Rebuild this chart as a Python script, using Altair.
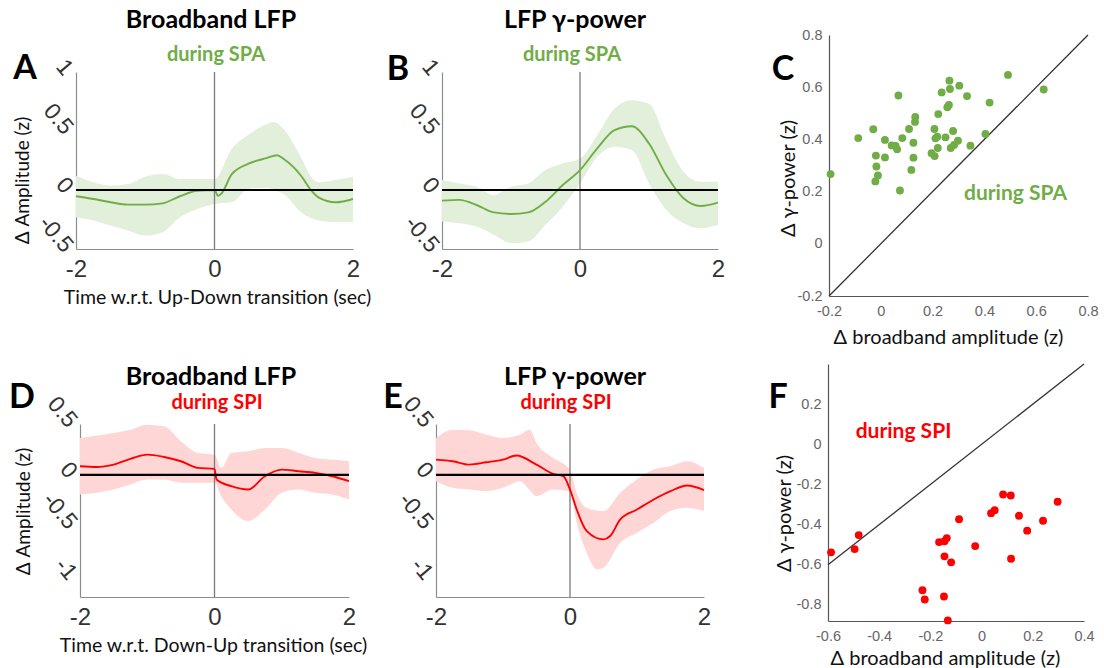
import altair as alt
import pandas as pd

# ---------------- data ----------------
# Panel A: broadband LFP during SPA (Up-Down transition)
a_t = [-2, -1.75, -1.5, -1.25, -1, -0.75, -0.5, -0.25, 0, 0.05, 0.1, 0.25, 0.5, 0.75, 0.9, 1.0, 1.25, 1.4, 1.5, 1.75, 2]
a_mean = [-0.053, -0.076, -0.104, -0.124, -0.124, -0.113, -0.053, -0.006, 0.0, -0.05, -0.03, 0.135, 0.225, 0.27, 0.295, 0.262, 0.121, -0.006, -0.062, -0.104, -0.076]
a_bt = [-2, -1.75, -1.5, -1.25, -1, -0.75, -0.5, -0.25, 0, 0.25, 0.5, 0.75, 0.85, 1.0, 1.25, 1.4, 1.5, 1.75, 2]
a_hi = [0.121, 0.065, 0.037, 0.05, 0.113, 0.135, 0.093, 0.093, 0.093, 0.35, 0.473, 0.557, 0.577, 0.515, 0.276, 0.107, 0.065, 0.084, 0.113]
a_lo = [-0.231, -0.259, -0.301, -0.343, -0.386, -0.357, -0.231, -0.16, -0.118, -0.104, 0.01, 0.02, 0.0, -0.034, -0.189, -0.24, -0.259, -0.273, -0.273]

# Panel B: LFP gamma power during SPA
b_t = [-2, -1.75, -1.5, -1.25, -1, -0.75, -0.5, -0.25, 0, 0.25, 0.5, 0.75, 1, 1.25, 1.5, 1.75, 2]
b_mean = [-0.09, -0.084, -0.127, -0.19, -0.203, -0.19, -0.1, 0.042, 0.169, 0.352, 0.507, 0.54, 0.394, 0.127, -0.07, -0.135, -0.107]
b_hi = [0.084, 0.056, 0.028, -0.042, 0.028, 0.056, 0.169, 0.225, 0.267, 0.464, 0.69, 0.76, 0.73, 0.422, 0.155, 0.07, 0.07]
b_lo = [-0.267, -0.281, -0.31, -0.38, -0.45, -0.436, -0.295, -0.141, 0.056, 0.281, 0.366, 0.338, 0.056, -0.169, -0.281, -0.324, -0.295]

# Panel D: broadband LFP during SPI (Down-Up transition)
d_t = [-2, -1.75, -1.5, -1.25, -1, -0.75, -0.5, -0.25, 0, 0.03, 0.25, 0.5, 0.75, 1, 1.25, 1.5, 1.75, 2]
d_mean = [0.085, 0.078, 0.101, 0.157, 0.199, 0.176, 0.134, 0.069, 0.059, -0.046, -0.111, -0.144, -0.013, 0.052, 0.036, 0.02, -0.013, -0.062]
d_bt = [-2, -1.75, -1.5, -1.25, -1, -0.75, -0.5, -0.25, 0, 0.1, 0.25, 0.5, 0.75, 1, 1.25, 1.5, 1.75, 2]
d_hi = [0.363, 0.386, 0.412, 0.444, 0.493, 0.477, 0.33, 0.216, 0.199, 0.07, 0.216, 0.232, 0.265, 0.265, 0.216, 0.167, 0.15, 0.134]
d_lo = [-0.193, -0.176, -0.144, -0.095, -0.046, -0.046, -0.078, -0.078, -0.078, -0.21, -0.34, -0.454, -0.34, -0.176, -0.144, -0.176, -0.193, -0.242]

# Panel E: LFP gamma power during SPI
e_t = [-2, -1.75, -1.5, -1.25, -1, -0.8, -0.5, -0.25, -0.1, 0, 0.1, 0.25, 0.5, 0.6, 0.75, 1, 1.25, 1.5, 1.75, 2]
e_mean = [0.15, 0.134, 0.101, 0.124, 0.15, 0.19, 0.101, 0.01, -0.013, -0.144, -0.34, -0.552, -0.634, -0.601, -0.438, -0.34, -0.242, -0.16, -0.105, -0.15]
e_bt = [-2, -1.75, -1.5, -1.25, -1, -0.75, -0.6, -0.5, -0.25, 0, 0.1, 0.25, 0.4, 0.5, 0.75, 1, 1.25, 1.5, 1.75, 2]
e_hi = [0.363, 0.444, 0.438, 0.395, 0.363, 0.395, 0.444, 0.314, 0.167, 0.052, -0.18, -0.324, -0.35, -0.356, -0.176, -0.046, 0.052, 0.085, 0.134, 0.069]
e_lo = [-0.062, -0.127, -0.144, -0.16, -0.127, -0.062, -0.15, -0.209, -0.144, -0.16, -0.47, -0.765, -0.928, -0.912, -0.667, -0.569, -0.471, -0.356, -0.324, -0.356]

# Panel C: scatter during SPA
c_x = [-0.194, -0.087, -0.029, -0.019, -0.017, -0.011, -0.021, 0.016, 0.016, 0.042, 0.057, 0.063, 0.068, 0.074,
       0.083, 0.109, 0.126, 0.126, 0.118, 0.132, 0.133, 0.196, 0.208, 0.207, 0.211, 0.218, 0.220, 0.222, 0.235,
       0.250, 0.257, 0.263, 0.265, 0.267, 0.270, 0.279, 0.283, 0.298, 0.303, 0.333, 0.346, 0.404, 0.420, 0.491, 0.629]
c_y = [0.267, 0.405, 0.439, 0.338, 0.296, 0.262, 0.239, 0.398, 0.331, 0.377, 0.375, 0.362, 0.568, 0.204,
       0.405, 0.440, 0.387, 0.330, 0.283, 0.467, 0.486, 0.347, 0.336, 0.440, 0.404, 0.410, 0.367, 0.497, 0.580,
       0.408, 0.523, 0.532, 0.625, 0.593, 0.367, 0.432, 0.379, 0.395, 0.606, 0.566, 0.376, 0.421, 0.541, 0.647, 0.591]

# Panel F: scatter during SPI
f_x = [-0.588, -0.496, -0.480, -0.231, -0.222, -0.147, -0.132, -0.166, -0.145, -0.136, -0.145, -0.119,
       -0.088, -0.025, 0.037, 0.051, 0.084, 0.114, 0.115, 0.146, 0.178, 0.240, 0.297]
f_y = [-0.538, -0.522, -0.452, -0.727, -0.773, -0.758, -0.877, -0.487, -0.483, -0.467, -0.558, -0.588,
       -0.373, -0.507, -0.343, -0.328, -0.250, -0.255, -0.570, -0.356, -0.430, -0.381, -0.286]

# ---------------- styling ----------------
W, H = 1104, 668
GREEN, GREEN_FILL = "#70ad47", "#e2efda"
RED, RED_FILL = "#ff0000", "#ffd6d6"
TFONT = "Lato"
NFONT = "Liberation Sans"
MINUS = "replace(format(datum.value, '~g'), '\u2212', '-')"


def ts_panel(tm, mean, tb, lo, hi, ydom, yvals, xr, yr, col, fill, ytitle=None, ytitle_pos=None,
             xtitle=None, xtitle_pos=None):
    xs = alt.Scale(domain=[-2, 2], range=xr, nice=False, zero=False)
    ys = alt.Scale(domain=ydom, range=yr, nice=False, zero=False)
    yaxis = dict(orient="left", offset=-xr[0], values=yvals, grid=False, ticks=False, tickSize=0,
                 domainColor="#8c8c8c", domainWidth=1.2, labelFont=NFONT, labelFontSize=23,
                 labelColor="#333333", labelAngle=50, labelAlign="right", labelBaseline="middle",
                 labelPadding=8, labelExpr=MINUS, title="")
    if ytitle:
        yaxis.update(title=ytitle, titleFont=TFONT, titleFontSize=19, titleFontWeight="normal",
                     titleColor="#111111", titleAngle=270, titleAlign="center", titleBaseline="middle",
                     titleX=ytitle_pos[0] - xr[0], titleY=ytitle_pos[1])
    xaxis = dict(orient="bottom", offset=yr[0] - H, values=[-2, 0, 2], grid=False, ticks=False, tickSize=0,
                 domainColor="#8c8c8c", domainWidth=1.2, labelFont=NFONT, labelFontSize=24,
                 labelColor="#333333", labelPadding=8, labelExpr=MINUS, labelFlush=False, title="")
    if xtitle:
        xaxis.update(title=xtitle, titleFont=TFONT, titleFontSize=19.5, titleFontWeight="normal",
                     titleColor="#111111", titleAlign="center", titleBaseline="middle",
                     titleX=xtitle_pos[0], titleY=xtitle_pos[1] - yr[0])

    band = alt.Chart(pd.DataFrame({"t": tb, "lo": lo, "hi": hi})).mark_area(
        color=fill, opacity=1, interpolate="monotone").encode(
        x=alt.X("t:Q", scale=xs, axis=alt.Axis(**xaxis)),
        y=alt.Y("lo:Q", scale=ys, axis=alt.Axis(**yaxis)),
        y2="hi:Q")
    vline = alt.Chart(pd.DataFrame({"x": [0], "y1": [ydom[0]], "y2": [ydom[1]]})).mark_rule(
        color="#7a7a7a", strokeWidth=1.3).encode(
        x=alt.X("x:Q", scale=xs, axis=None), y=alt.Y("y1:Q", scale=ys, axis=None), y2="y2:Q")
    line = alt.Chart(pd.DataFrame({"t": tm, "m": mean})).mark_line(
        color=col, strokeWidth=1.9, interpolate="monotone").encode(
        x=alt.X("t:Q", scale=xs, axis=None), y=alt.Y("m:Q", scale=ys, axis=None))
    hline = alt.Chart(pd.DataFrame({"x1": [-2], "x2": [2], "y": [0]})).mark_rule(
        color="#000000", strokeWidth=2.2).encode(
        x=alt.X("x1:Q", scale=xs, axis=None), x2="x2:Q", y=alt.Y("y:Q", scale=ys, axis=None))
    return [band, vline, line, hline]


def sc_panel(xv, yv, xdom, ydom, vals_x, vals_y, xr, yr, col, note, note_xy, ytitle_pos, xtitle_pos):
    xs = alt.Scale(domain=xdom, range=xr, nice=False, zero=False)
    ys = alt.Scale(domain=ydom, range=yr, nice=False, zero=False)
    common = dict(grid=False, ticks=False, tickSize=0, domainColor="#555555", domainWidth=1.2,
                  labelFont=NFONT, labelFontSize=14.5, labelColor="#666666", labelExpr=MINUS,
                  titleFont=TFONT, titleFontSize=20, titleFontWeight="normal", titleColor="#111111",
                  titleAlign="center", titleBaseline="middle")
    xaxis = alt.Axis(orient="bottom", offset=yr[0] - H, values=vals_x, labelPadding=8, labelFlush=False,
                     title="\u0394 broadband amplitude (z)", titleX=xtitle_pos[0],
                     titleY=xtitle_pos[1] - yr[0], **common)
    yaxis = alt.Axis(orient="left", offset=-xr[0], values=vals_y, labelPadding=7, labelFlush=False,
                     title="\u0394 \u03b3-power (z)", titleAngle=270, titleX=ytitle_pos[0] - xr[0],
                     titleY=ytitle_pos[1], **common)
    diag = alt.Chart(pd.DataFrame({"a": [xdom[0], xdom[1]], "b": [xdom[0], xdom[1]]})).mark_line(
        color="#333333", strokeWidth=1.3).encode(
        x=alt.X("a:Q", scale=xs, axis=xaxis), y=alt.Y("b:Q", scale=ys, axis=yaxis))
    pts = alt.Chart(pd.DataFrame({"x": xv, "y": yv})).mark_circle(
        color=col, opacity=1, size=62).encode(
        x=alt.X("x:Q", scale=xs, axis=None), y=alt.Y("y:Q", scale=ys, axis=None))
    txt = alt.Chart(pd.DataFrame({"x": [note_xy[0]], "y": [note_xy[1]], "s": [note]})).mark_text(
        color=col, font=TFONT, fontSize=21, fontWeight="bold", align="center", baseline="middle").encode(
        x=alt.X("x:Q", scale=xs, axis=None), y=alt.Y("y:Q", scale=ys, axis=None), text="s:N")
    return [diag, pts, txt]


def label(text, x, y, size, color="#000000", weight="bold"):
    return alt.Chart(pd.DataFrame({"s": [text]})).mark_text(
        font=TFONT, fontSize=size, fontWeight=weight, color=color, align="center",
        baseline="middle").encode(text="s:N", x=alt.value(x), y=alt.value(y))


pA = ts_panel(a_t, a_mean, a_bt, a_lo, a_hi, [-0.5, 1], [-0.5, 0, 0.5, 1], [76, 353], [249, 72],
              GREEN, GREEN_FILL, "\u0394 Amplitude (z)", (22, 180),
              "Time w.r.t. Up-Down transition (sec)", (217, 297))
pB = ts_panel(b_t, b_mean, b_t, b_lo, b_hi, [-0.5, 1], [-0.5, 0, 0.5, 1], [442, 718], [249, 72],
              GREEN, GREEN_FILL)
pD = ts_panel(d_t, d_mean, d_bt, d_lo, d_hi, [-1.2, 0.5], [-1, -0.5, 0, 0.5], [80, 349], [597, 424],
              RED, RED_FILL, "\u0394 Amplitude (z)", (23, 511),
              "Time w.r.t. Down-Up transition (sec)", (213, 645))
pE = ts_panel(e_t, e_mean, e_bt, e_lo, e_hi, [-1.2, 0.5], [-1, -0.5, 0, 0.5], [436, 704], [597, 424],
              RED, RED_FILL)
pC = sc_panel(c_x, c_y, [-0.2, 0.8], [-0.2, 0.8], [-0.2, 0, 0.2, 0.4, 0.6, 0.8], [-0.2, 0, 0.2, 0.4, 0.6, 0.8],
              [829, 1088], [296, 35], GREEN, "during SPA", (0.52, 0.19), (788, 178), (948, 337))
pF = sc_panel(f_x, f_y, [-0.6, 0.4], [-0.88, 0.4], [-0.6, -0.4, -0.2, 0, 0.2, 0.4], [-0.8, -0.6, -0.4, -0.2, 0, 0.2],
              [828, 1084], [621, 364], RED, "during SPI", (-0.305, 0.063), (784, 513), (945, 658))

labels = [
    label("Broadband LFP", 211, 20, 25), label("during SPA", 216, 55, 20, GREEN), label("A", 25, 69, 34),
    label("LFP \u03b3-power", 575, 20, 25), label("during SPA", 572, 55, 20, GREEN), label("B", 398, 70, 34),
    label("C", 783, 70, 34),
    label("Broadband LFP", 211, 377, 25), label("during SPI", 217, 403, 20, RED), label("D", 22, 398, 34),
    label("LFP \u03b3-power", 575, 377, 25), label("during SPI", 566, 403, 20, RED), label("E", 393, 398, 34),
    label("F", 778, 398, 34),
]

chart = alt.layer(*pA, *pB, *pC, *pD, *pE, *pF, *labels).resolve_scale(
    x="independent", y="independent").resolve_axis(x="independent", y="independent").properties(
    width=W, height=H, padding=0, autosize=alt.AutoSizeParams(type="none"),
    background="#ffffff").configure_view(stroke=None)

chart.save("out.html", embed_options={"renderer": "svg", "actions": False})
